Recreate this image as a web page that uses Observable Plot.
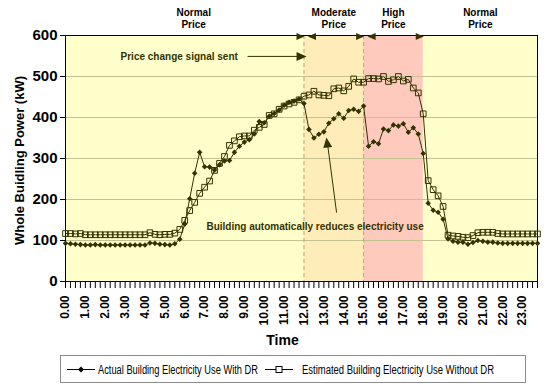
<!DOCTYPE html>
<html><head><meta charset="utf-8">
<script src="https://cdn.jsdelivr.net/npm/d3@7"></script>
<script src="https://cdn.jsdelivr.net/npm/@observablehq/plot@0.6"></script>
<style>
body{margin:0;background:#fff;width:559px;height:392px;overflow:hidden;position:relative;font-family:"Liberation Sans",Arial,sans-serif;}
#chart{position:absolute;left:0;top:0;}
#legend{position:absolute;left:0;top:352px;}
</style></head>
<body>
<div id="chart"></div>
<div id="legend"></div>
<script>
// categories: 15-minute slots, hour labels
const timeSlots = d3.range(0, 24, 0.25);
const hourTicks = d3.range(0, 24);
const yTicks = [0, 100, 200, 300, 400, 500, 600];

// series (kW)
const actualWithDR = [
  93, 92, 91, 90,
  89, 89, 90, 89, 89, 89, 89, 89, 89, 89, 89, 89, 89,
  94, 93, 91, 90, 89, 92, 103,
  140, 202, 264, 315, 280, 279, 272, 285, 294, 295, 315, 330,
  340, 346, 360, 390, 387, 403, 410, 418, 430, 437, 440, 445,
  434, 371, 350, 359, 365, 386, 397, 409, 398, 417, 420, 415,
  428, 330, 341, 336, 372, 368, 382, 379, 385, 364, 375, 360,
  312, 191, 174, 169, 152, 104, 98, 96, 96, 91, 95, 100,
  98, 96, 96, 94, 93, 93, 93, 93, 93, 93, 93, 93
];
const estimatedWithoutDR = [
  117, 117, 116, 117,
  114, 114, 114, 114, 114, 114, 114, 114, 114, 114, 114, 114, 114,
  119, 115, 114, 115, 115, 118, 127,
  149, 173, 193, 215, 230, 245, 271, 288, 305, 332, 343, 353,
  355, 355, 369, 376, 383, 405, 409, 420, 428, 433, 437, 443,
  452, 455, 464, 455, 454, 453, 470, 472, 465, 476, 494, 486,
  486, 495, 495, 494, 500, 488, 492, 500, 489, 493, 472, 460,
  409, 246, 224, 209, 183, 113, 111, 110, 108, 107, 112, 119,
  120, 120, 120, 117, 116, 116, 116, 116, 116, 116, 116, 116
];
const seriesNames = ["Actual Building Electricity Use With DR", "Estimated Building Electricity Use Without DR"];

// price periods
const priceZones = [
  {start: 12, end: 15, fill: "#FFEDB9"},
  {start: 15, end: 18, fill: "#FFCABE"}
];
const zoneBoundaries = [12, 15];
const priceLabels = [
  {t: 6.45, label: "Normal\nPrice"},
  {t: 13.5, label: "Moderate\nPrice"},
  {t: 16.5, label: "High\nPrice"},
  {t: 20.875, label: "Normal\nPrice"}
];
const rightArrowheads = [12, 15, 18];
const leftArrowheads = [12, 15];

// annotations
const notes = [
  {t: 2.77, v: 549, text: "Price change signal sent"},
  {t: 7.09, v: 134, text: "Building automatically reduces electricity use"}
];
const pointerLines = [
  {t1: 9.16, v1: 549, t2: 11.9, v2: 549},
  {t1: 13.64, v1: 168, t2: 13.2, v2: 330}
];
const pointerHeads = [
  {t: 12.13, v: 549, rotate: 90},
  {t: 13.13, v: 351, rotate: -7.6}
];

const rows = timeSlots.map((t, i) => ({t, actual: actualWithDR[i], estimated: estimatedWithoutDR[i]}));

const arrowhead = {
  draw(ctx, size) {
    const r = Math.sqrt(size / Math.PI);
    const h = 2 * r, w = 1.8 * r;
    ctx.moveTo(0, 0);
    ctx.lineTo(-w / 2, h);
    ctx.lineTo(w / 2, h);
    ctx.closePath();
  }
};

const ink = "#333300";

const chart = Plot.plot({
  width: 559,
  height: 352,
  marginLeft: 65,
  marginRight: 22,
  marginTop: 35,
  marginBottom: 71,
  style: {fontFamily: "'Liberation Sans', Arial, sans-serif", fontWeight: "bold", background: "white", overflow: "visible", color: "black"},
  x: {domain: [0, 23.75]},
  y: {domain: [0, 600]},
  marks: [
    Plot.frame({fill: "#FFFFCC"}),
    Plot.rect(priceZones, {x1: "start", x2: "end", y1: () => 0, y2: () => 600, fill: "fill"}),
    Plot.gridY(yTicks.slice(1, -1), {stroke: "#c4c290", strokeOpacity: 1}),
    Plot.ruleX(zoneBoundaries, {stroke: "#b8a680", strokeDasharray: "4,3", strokeWidth: 1}),
    Plot.frame({stroke: "black"}),
    Plot.axisY({ticks: yTicks, tickSize: 5, tickPadding: 3, fontSize: 15, label: null}),
    Plot.axisX({ticks: timeSlots, tickSize: 7, tickFormat: () => "", label: null}),
    Plot.axisX({ticks: hourTicks, tickSize: 0, tickPadding: 14, tickRotate: -90, tickFormat: d => d.toFixed(2), fontSize: 12, label: null}),
    Plot.line(rows, {x: "t", y: "estimated", stroke: ink, strokeWidth: 1}),
    Plot.line(rows, {x: "t", y: "actual", stroke: ink, strokeWidth: 1}),
    Plot.dot(rows, {x: "t", y: "estimated", symbol: "square", r: 3.2, stroke: ink, strokeWidth: 1, fill: "none"}),
    Plot.dot(rows, {x: "t", y: "actual", symbol: "diamond2", r: 2.5, fill: ink, stroke: "none"}),
    Plot.text(priceLabels, {x: "t", text: "label", frameAnchor: "top", lineAnchor: "bottom", dy: -7.7, fontSize: 10, lineHeight: 1.2}),
    Plot.dot(rightArrowheads, {x: d => d, frameAnchor: "top", dx: 0.5, dy: 1, symbol: arrowhead, r: 4, rotate: 90, fill: ink, stroke: "none"}),
    Plot.dot(leftArrowheads, {x: d => d, frameAnchor: "top", dx: 4, dy: 1, symbol: arrowhead, r: 4, rotate: -90, fill: ink, stroke: "none"}),
    Plot.link(pointerLines, {x1: "t1", y1: "v1", x2: "t2", y2: "v2", stroke: ink, strokeWidth: 1}),
    Plot.dot(pointerHeads, {x: "t", y: "v", rotate: "rotate", symbol: arrowhead, r: 5, fill: ink, stroke: "none"}),
    Plot.text(notes, {x: "t", y: "v", text: "text", textAnchor: "start", fontSize: 10, fill: ink}),
    Plot.text(["Whole Buidling Power (kW)"], {frameAnchor: "left", textAnchor: "middle", lineAnchor: "middle", dx: -46, dy: 2, rotate: -90, fontSize: 13}),
    Plot.text(["Time"], {frameAnchor: "bottom", dx: -19, dy: 63, fontSize: 14})
  ]
});
document.getElementById("chart").appendChild(chart);

// legend
const lg = d3.select("#legend").append("svg").attr("width", 559).attr("height", 40)
  .style("font-family", "'Liberation Sans', Arial, sans-serif");
lg.append("rect").attr("x", 60.5).attr("y", 3.5).attr("width", 465).attr("height", 27)
  .attr("fill", "white").attr("stroke", "#8c8c8c");
const items = [
  {name: seriesNames[0], x: 67, tx: 98, tl: 160, sym: "diamond"},
  {name: seriesNames[1], x: 265, tx: 302, tl: 192, sym: "square"}
];
items.forEach(it => {
  lg.append("line").attr("x1", it.x).attr("x2", it.x + 28).attr("y1", 17.5).attr("y2", 17.5).attr("stroke", "black");
  const cx = it.x + 14;
  if (it.sym === "diamond") {
    lg.append("path").attr("d", `M${cx},14.5L${cx+3},17.5L${cx},20.5L${cx-3},17.5Z`).attr("fill", "black");
  } else {
    lg.append("rect").attr("x", cx - 3).attr("y", 14.5).attr("width", 6).attr("height", 6).attr("fill", "white").attr("stroke", "black");
  }
  lg.append("text").attr("x", it.tx).attr("y", 21.5).attr("font-size", 12)
    .attr("textLength", it.tl).attr("lengthAdjust", "spacingAndGlyphs").text(it.name);
});
</script>
</body></html>
